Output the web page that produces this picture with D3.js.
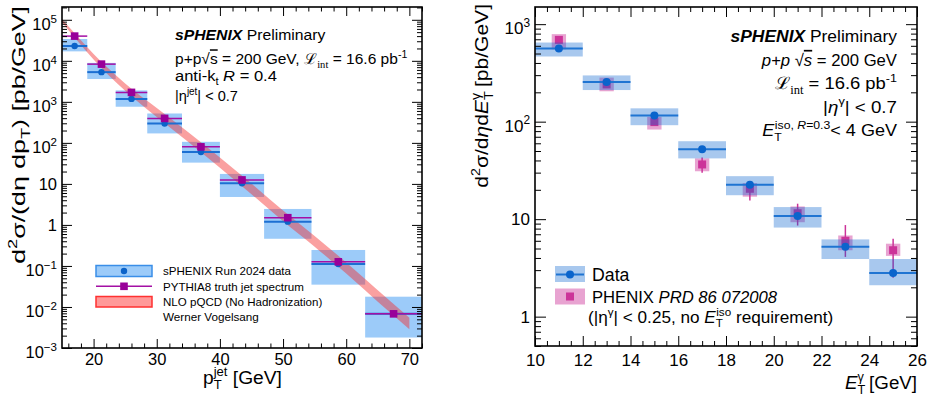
<!DOCTYPE html>
<html><head><meta charset="utf-8">
<script src="https://cdn.jsdelivr.net/npm/d3@7"></script>
<style>
body{margin:0;background:#fff}
svg{display:block}
text{font-family:"Liberation Sans",Arial,Helvetica,sans-serif;fill:#000}
</style>
</head><body><svg id="c" width="931" height="396"></svg>
<script>
// ---------------- data: left panel (inclusive jets) ----------------
const jetBinLo  = [15, 19, 23.5, 28.5, 34, 40, 47, 54.5, 63];
const jetBinHi  = [19, 23.5, 28.5, 34, 40, 47, 54.5, 63, 72];
const jetData   = [2.3e4, 5.3e3, 1.18e3, 296, 60, 10.4, 1.2, 0.112, 0.0068];
const jetSysLo  = [1.7e4, 3.6e3, 760, 170, 33, 4.8, 0.46, 0.035, 0.0018];
const jetSysHi  = [3.4e4, 8.9e3, 1.9e3, 520, 106, 17.5, 2.45, 0.245, 0.0178];
const jetPythia = [4.0e4, 8.3e3, 1.7e3, 395, 80, 12.5, 1.5, 0.126, 0.0068];
const nloPt = [15, 17, 20, 25, 30, 35, 40, 45, 50, 55, 60, 65, 70];
const nloLo = [87100, 37150, 10840, 1862, 426.6, 104.7, 24.8, 5.62, 1.23, 0.295, 0.0653, 0.0135, 0.00288];
const nloHi = [104700, 46770, 14620, 2818, 707.9, 182, 44.2, 10.2, 2.24, 0.537, 0.1216, 0.0257, 0.0055];
const jetYTicks = [1e-3, 1e-2, 1e-1, 1, 10, 1e2, 1e3, 1e4, 1e5];
const jetXTicks = [20, 30, 40, 50, 60, 70];
// ---------------- data: right panel (isolated photons) ----------------
const phoBinLo = [10, 12, 14, 16, 18, 20, 22, 24];
const phoBinHi = [12, 14, 16, 18, 20, 22, 24, 26];
const phoData  = [562, 255, 116, 52, 22.6, 10.8, 5.2, 2.8];
const phoSysLo = [466, 211, 92, 42, 17.6, 8.2, 3.9, 2.1];
const phoSysHi = [648, 298, 137, 63, 27.6, 13.3, 6.2, 3.9];
const phenixX     = [11, 13, 15, 17, 19, 21, 23, 25];
const phenixVal   = [690, 241, 99, 36.4, 20.5, 11.5, 6.0, 4.8];
const phenixSysLo = [553, 205, 83, 31, 17, 9.3, 4.8, 4.2];
const phenixSysHi = [790, 283, 112, 42, 23.4, 13.5, 6.8, 5.6];
const phenixErrLo = [670, 233, 94, 30, 15.5, 8.6, 4.1, 2.5];
const phenixErrHi = [710, 250, 105, 43, 23.5, 14.4, 8.7, 6.3];
const phoYTicks = [1, 10, 100, 1000];
const phoXTicks = [10, 12, 14, 16, 18, 20, 22, 24, 26];

// ---------------- helpers ----------------
const svg = d3.select("#c");
const defs = svg.append("defs");

function rich(parent, parts, fs, anchor) {
  const t = parent.append("text").attr("font-size", fs).attr("text-anchor", anchor || "start");
  let shift = 0, prev = null;
  parts.forEach(p => {
    const o = (typeof p === "string") ? {t: p} : p;
    let target = 0, size = fs;
    if (o.sup) { target = -0.42 * fs; size = 0.68 * fs; }
    if (o.sub) { target = 0.28 * fs; size = 0.68 * fs; }
    const ts = t.append("tspan").text(o.t).attr("font-size", size);
    if (target - shift !== 0) ts.attr("dy", target - shift);
    shift = target;
    if (o.i) ts.attr("font-style", "italic");
    if (o.b) ts.attr("font-weight", "bold");
    if (o.serif) ts.style("font-family", "'Liberation Serif','DejaVu Serif',serif");
    if (o.ol) ts.style("text-decoration", "overline");
    if (o.stack && prev) ts.attr("dx", -prev.node().getComputedTextLength());
    prev = ts;
  });
  return t;
}
function place(t, x, y, target, rot) {
  const base = `translate(${x},${y})` + (rot ? " rotate(-90)" : "");
  t.attr("transform", base);
  if (target) {
    const w = t.node().getBBox().width;
    t.attr("transform", base + ` scale(${target / w},1)`);
  }
  return t;
}
function logMinor(lo, hi) {
  const out = [];
  for (let e = Math.floor(Math.log10(lo)) - 1; e <= Math.ceil(Math.log10(hi)); e++)
    for (let m = 2; m <= 9; m++) { const v = m * Math.pow(10, e); if (v >= lo && v <= hi) out.push(v); }
  return out;
}
function supLabel(sel, fs, shiftDown) {
  sel.each(function(d) {
    const e = Math.round(Math.log10(d));
    const t = d3.select(this).text(null);
    if (e === 0) t.text("1");
    else if (e === 1) t.text("10");
    else {
      t.attr("y", shiftDown);
      t.append("tspan").text("10");
      t.append("tspan").text(e < 0 ? "\u2212" + (-e) : String(e))
        .attr("font-size", 0.7 * fs).attr("dy", -0.42 * fs);
    }
  });
}
function frameAxes(g, x, y, box, o) {
  const mk = (sel) => { sel.select(".domain").remove(); sel.selectAll(".tick line").attr("stroke", "#000").attr("stroke-width", 1); return sel; };
  // bottom
  const bx = g.append("g").attr("transform", `translate(0,${box.y1})`)
    .call(d3.axisBottom(x).tickValues(o.xMajor).tickSize(-o.majX).tickFormat(d3.format("d")))
    .attr("font-size", o.fs);
  mk(bx).selectAll(".tick text").attr("dy", null).attr("y", o.xLabY);
  mk(g.append("g").attr("transform", `translate(0,${box.y1})`)
    .call(d3.axisBottom(x).tickValues(o.xMinor).tickSize(-o.minX).tickFormat("")));
  // top
  mk(g.append("g").attr("transform", `translate(0,${box.y0})`)
    .call(d3.axisTop(x).tickValues(o.xMajor).tickSize(-o.majX).tickFormat("")));
  mk(g.append("g").attr("transform", `translate(0,${box.y0})`)
    .call(d3.axisTop(x).tickValues(o.xMinor).tickSize(-o.minX).tickFormat("")));
  // left
  const ly = g.append("g").attr("transform", `translate(${box.x0},0)`)
    .call(d3.axisLeft(y).tickValues(o.yMajor).tickSize(-o.majY).tickPadding(o.yPad).tickFormat(d => d))
    .attr("font-size", o.fs);
  mk(ly); supLabel(ly.selectAll(".tick text"), o.fs, o.supShift);
  mk(g.append("g").attr("transform", `translate(${box.x0},0)`)
    .call(d3.axisLeft(y).tickValues(o.yMinor).tickSize(-o.minY).tickFormat("")));
  // right
  mk(g.append("g").attr("transform", `translate(${box.x1},0)`)
    .call(d3.axisRight(y).tickValues(o.yMajor).tickSize(-o.majY).tickFormat("")));
  mk(g.append("g").attr("transform", `translate(${box.x1},0)`)
    .call(d3.axisRight(y).tickValues(o.yMinor).tickSize(-o.minY).tickFormat("")));
  g.append("rect").attr("x", box.x0).attr("y", box.y0).attr("width", box.x1 - box.x0).attr("height", box.y1 - box.y0)
    .attr("fill", "none").attr("stroke", "#000").attr("stroke-width", 1.6);
}

// ================= LEFT PANEL =================
const BL = {x0: 62, x1: 422, y0: 7, y1: 348};
const xL = d3.scaleLinear().domain([15, 72]).range([BL.x0, BL.x1]);
const yL = d3.scaleLog().domain([1e-3, 2.05e5]).range([BL.y1, BL.y0]);
defs.append("clipPath").attr("id", "clipL").append("rect")
  .attr("x", BL.x0).attr("y", BL.y0).attr("width", BL.x1 - BL.x0).attr("height", BL.y1 - BL.y0);
const gL = svg.append("g");
const pL = gL.append("g").attr("clip-path", "url(#clipL)");

pL.selectAll("rect.sys").data(jetData).join("rect").attr("class", "sys")
  .attr("x", (d, i) => xL(jetBinLo[i])).attr("width", (d, i) => xL(jetBinHi[i]) - xL(jetBinLo[i]))
  .attr("y", (d, i) => yL(jetSysHi[i])).attr("height", (d, i) => yL(jetSysLo[i]) - yL(jetSysHi[i]))
  .attr("fill", "#9ccbf9");

const band = d3.area().x(d => xL(d)).y0((d, i) => yL(nloLo[i])).y1((d, i) => yL(nloHi[i])).curve(d3.curveMonotoneX);
pL.append("path").datum(nloPt).attr("d", band).attr("fill", "rgba(245,45,45,0.45)");

pL.selectAll("line.dat").data(jetData).join("line").attr("class", "dat")
  .attr("x1", (d, i) => xL(jetBinLo[i])).attr("x2", (d, i) => xL(jetBinHi[i]))
  .attr("y1", d => yL(d)).attr("y2", d => yL(d)).attr("stroke", "#1c6fd2").attr("stroke-width", 2);
pL.selectAll("line.py").data(jetPythia).join("line").attr("class", "py")
  .attr("x1", (d, i) => xL(jetBinLo[i])).attr("x2", (d, i) => xL(jetBinHi[i]))
  .attr("y1", d => yL(d)).attr("y2", d => yL(d)).attr("stroke", "#a40fa4").attr("stroke-width", 1.5);
pL.selectAll("circle.dat").data(jetData).join("circle").attr("class", "dat")
  .attr("cx", (d, i) => xL((jetBinLo[i] + jetBinHi[i]) / 2)).attr("cy", d => yL(d)).attr("r", 3.2).attr("fill", "#0b63c9");
pL.selectAll("rect.py").data(jetPythia).join("rect").attr("class", "py")
  .attr("x", (d, i) => xL((jetBinLo[i] + jetBinHi[i]) / 2) - 3.8).attr("y", d => yL(d) - 3.8)
  .attr("width", 7.6).attr("height", 7.6).attr("fill", "#990099");

const xMinL = []; for (let v = 16; v <= 72; v += 2) if (v % 10) xMinL.push(v);
frameAxes(gL, xL, yL, BL, {xMajor: jetXTicks, xMinor: xMinL, yMajor: jetYTicks, yMinor: logMinor(1e-3, 2.05e5),
  majX: 9, minX: 4.5, majY: 10, minY: 5, fs: 16.5, xLabY: 17, yPad: 5, supShift: 4});

// texts left
place(rich(gL, [{t: "sPHENIX", b: 1, i: 1}, " Preliminary"], 15), 175, 39.5, 151);
place(rich(gL, ["p+p", "\u221A", {t: "s", ol: 1}, " = 200 GeV, ", {t: "\u2112", serif: 1}, {t: "int", sub: 1, serif: 1}, " = 16.6 pb", {t: "-1", sup: 1}], 15), 175, 64, 233);
place(rich(gL, ["anti-k", {t: "t", sub: 1}, "  ", {t: "R", i: 1}, " = 0.4"], 15), 175, 80.5, 102);
place(rich(gL, ["|\u03B7", {t: "jet", sup: 1}, "| < 0.7"], 15), 175, 101, 63);

// legend left
const lg = gL.append("g");
lg.append("rect").attr("x", 96).attr("y", 265.5).attr("width", 56).attr("height", 11).attr("fill", "#9ccbf9").attr("stroke", "#3a8ee8").attr("stroke-width", 1.5);
lg.append("circle").attr("cx", 124).attr("cy", 271).attr("r", 3.2).attr("fill", "#0b63c9");
lg.append("line").attr("x1", 96).attr("x2", 152).attr("y1", 286.3).attr("y2", 286.3).attr("stroke", "#a40fa4").attr("stroke-width", 1.5);
lg.append("rect").attr("x", 120.2).attr("y", 282.5).attr("width", 7.6).attr("height", 7.6).attr("fill", "#990099");
lg.append("rect").attr("x", 96).attr("y", 296.5).attr("width", 56).attr("height", 10.5).attr("fill", "#ff9999").attr("stroke", "#ff3030").attr("stroke-width", 1.5);
place(rich(lg, ["sPHENIX Run 2024 data"], 11.6), 163, 275.2, 128.7);
place(rich(lg, ["PYTHIA8 truth jet spectrum"], 11.6), 163, 290.8, 141);
place(rich(lg, ["NLO pQCD (No Hadronization)"], 11.6), 163, 305.8, 159.4);
place(rich(lg, ["Werner Vogelsang"], 11.6), 163, 320.8, 96);

// axis titles left
place(rich(gL, ["d", {t: "2", sup: 1}, "\u03C3/(d\u03B7 dp", {t: "T", sub: 1}, ") [pb/GeV]"], 18, "end"), 25, 6, 258, true);
place(rich(gL, ["p", {t: "T", sub: 1}, {t: "jet", sup: 1, stack: 1}, " [GeV]"], 18), 203, 384, 79);

// ================= RIGHT PANEL =================
const BR = {x0: 535, x1: 917, y0: 7, y1: 346};
const xR = d3.scaleLinear().domain([10, 26]).range([BR.x0, BR.x1]);
const yR = d3.scaleLog().domain([0.5, 1500]).range([BR.y1, BR.y0]);
defs.append("clipPath").attr("id", "clipR").append("rect")
  .attr("x", BR.x0).attr("y", BR.y0).attr("width", BR.x1 - BR.x0).attr("height", BR.y1 - BR.y0);
const gR = svg.append("g");
const pR = gR.append("g").attr("clip-path", "url(#clipR)");
const PINK = "#cc3399", BLUEBOX = "rgba(6,98,206,0.35)";

pR.selectAll("rect.psys").data(phenixVal).join("rect").attr("class", "psys")
  .attr("x", (d, i) => xR(phenixX[i] - 0.3)).attr("width", (d, i) => xR(phenixX[i] + 0.3) - xR(phenixX[i] - 0.3))
  .attr("y", (d, i) => yR(phenixSysHi[i])).attr("height", (d, i) => yR(phenixSysLo[i]) - yR(phenixSysHi[i]))
  .attr("fill", "rgba(204,51,153,0.45)");
pR.selectAll("line.perr").data(phenixVal).join("line").attr("class", "perr")
  .attr("x1", (d, i) => xR(phenixX[i])).attr("x2", (d, i) => xR(phenixX[i]))
  .attr("y1", (d, i) => yR(phenixErrHi[i])).attr("y2", (d, i) => yR(phenixErrLo[i]))
  .attr("stroke", PINK).attr("stroke-width", 1.5);
pR.selectAll("rect.pm").data(phenixVal).join("rect").attr("class", "pm")
  .attr("x", (d, i) => xR(phenixX[i]) - 4).attr("y", d => yR(d) - 4).attr("width", 8).attr("height", 8).attr("fill", PINK);

pR.selectAll("rect.dsys").data(phoData).join("rect").attr("class", "dsys")
  .attr("x", (d, i) => xR(phoBinLo[i])).attr("width", (d, i) => xR(phoBinHi[i]) - xR(phoBinLo[i]))
  .attr("y", (d, i) => yR(phoSysHi[i])).attr("height", (d, i) => yR(phoSysLo[i]) - yR(phoSysHi[i]))
  .attr("fill", BLUEBOX);
pR.selectAll("line.dl").data(phoData).join("line").attr("class", "dl")
  .attr("x1", (d, i) => xR(phoBinLo[i])).attr("x2", (d, i) => xR(phoBinHi[i]))
  .attr("y1", d => yR(d)).attr("y2", d => yR(d)).attr("stroke", "#1f74d2").attr("stroke-width", 2);
pR.selectAll("circle.dm").data(phoData).join("circle").attr("class", "dm")
  .attr("cx", (d, i) => xR((phoBinLo[i] + phoBinHi[i]) / 2)).attr("cy", d => yR(d)).attr("r", 4).attr("fill", "#0a64cc");

const xMinR = []; for (let k = 20; k <= 52; k++) if (k % 4) xMinR.push(k / 2);
frameAxes(gR, xR, yR, BR, {xMajor: phoXTicks, xMinor: xMinR, yMajor: phoYTicks, yMinor: logMinor(0.5, 1500),
  majX: 10, minX: 5, majY: 11, minY: 6, fs: 17, xLabY: 19.7, yPad: 5, supShift: 4});

// texts right
place(rich(gR, [{t: "sPHENIX", b: 1, i: 1}, " Preliminary"], 17, "end"), 897, 42, 167);
place(rich(gR, [{t: "p+p", i: 1}, "  \u221A", {t: "s", i: 1, ol: 1}, " = 200 GeV"], 17, "end"), 897, 66, 137);
place(rich(gR, [{t: "\u2112", serif: 1}, {t: "int", sub: 1, serif: 1}, " = 16.6 pb", {t: "-1", sup: 1}], 17, "end"), 897, 89, 122);
place(rich(gR, ["|", {t: "\u03B7", i: 1}, {t: "\u03B3", sup: 1}, "| < 0.7"], 17, "end"), 897, 112.5, 74);
place(rich(gR, [{t: "E", i: 1}, {t: "T", sub: 1}, {t: "iso, ", sup: 1, stack: 1}, {t: "R", sup: 1, i: 1}, {t: "=0.3", sup: 1}, "< 4 GeV"], 17, "end"), 897, 136, 135);

// legend right
const lr = gR.append("g");
lr.append("rect").attr("x", 555).attr("y", 266).attr("width", 30).attr("height", 16).attr("fill", BLUEBOX);
lr.append("line").attr("x1", 556).attr("x2", 584).attr("y1", 274.5).attr("y2", 274.5).attr("stroke", "#1f74d2").attr("stroke-width", 2);
lr.append("circle").attr("cx", 570).attr("cy", 274.5).attr("r", 4).attr("fill", "#0a64cc");
lr.append("rect").attr("x", 555).attr("y", 288.5).attr("width", 30).attr("height", 16).attr("fill", "rgba(204,51,153,0.45)");
lr.append("rect").attr("x", 566).attr("y", 292.5).attr("width", 8).attr("height", 8).attr("fill", PINK);
place(rich(lr, ["Data"], 17.5), 592, 281, 37.7);
place(rich(lr, ["PHENIX ", {t: "PRD 86 072008", i: 1}], 16.5), 592, 302.5, 186);
place(rich(lr, ["(|\u03B7", {t: "\u03B3", sup: 1}, "| < 0.25, no  ", {t: "E", i: 1}, {t: "T", sub: 1}, {t: "iso", sup: 1, stack: 1}, " requirement)"], 16.5), 588, 322.5, 245);

// axis titles right
place(rich(gR, ["d", {t: "2", sup: 1}, "\u03C3/d", {t: "\u03B7", i: 1}, "d", {t: "E", i: 1}, {t: "T", sub: 1}, {t: "\u03B3", sup: 1, stack: 1}, " [pb/GeV]"], 18, "end"), 488, 4, 184, true);
place(rich(gR, [{t: "E", i: 1}, {t: "T", sub: 1}, {t: "\u03B3", sup: 1, stack: 1}, " [GeV]"], 19, "end"), 917, 389, 72);
</script>
</body></html>
